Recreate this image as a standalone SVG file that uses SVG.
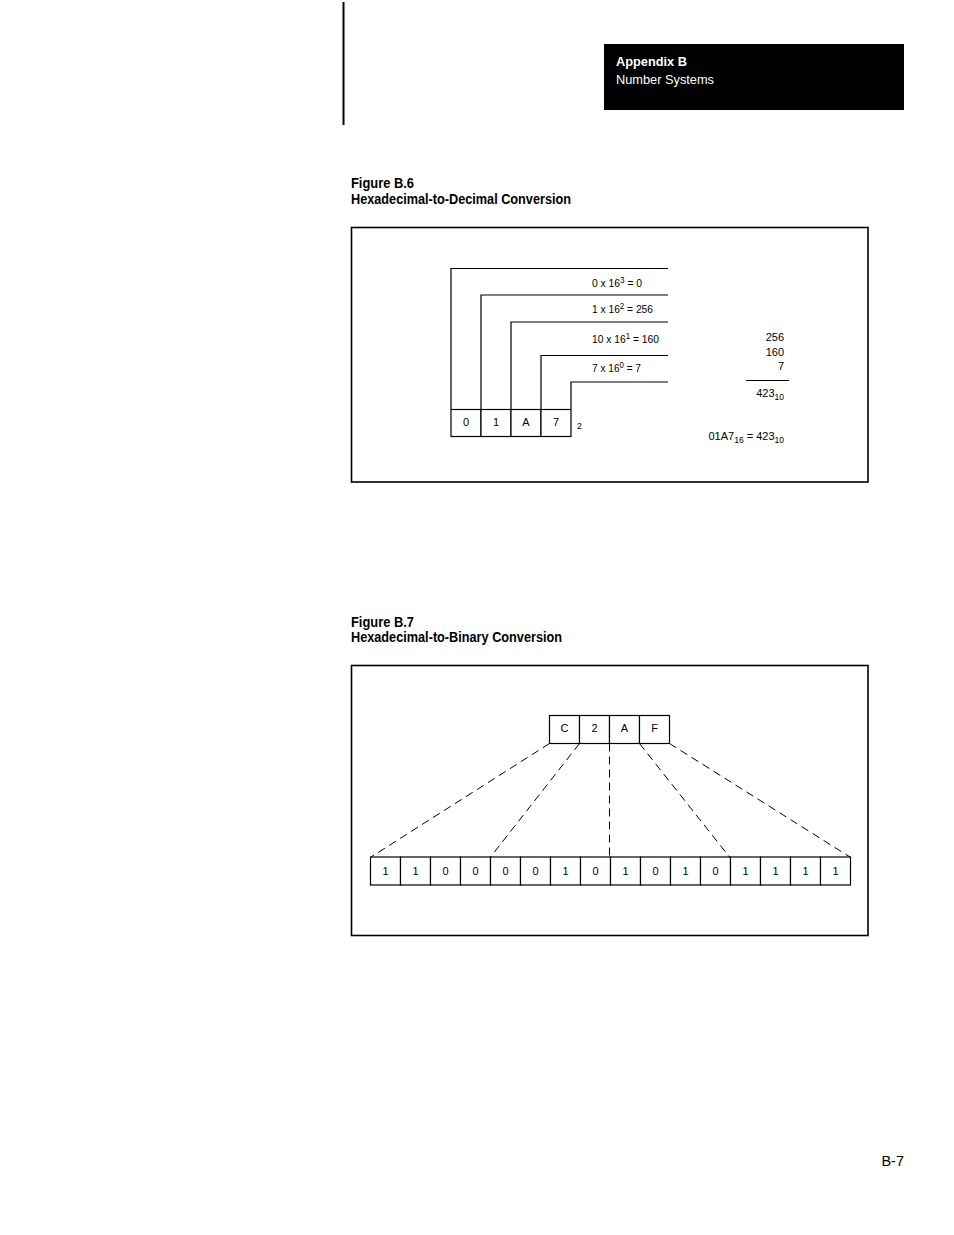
<svg xmlns="http://www.w3.org/2000/svg" width="954" height="1235" viewBox="0 0 954 1235">
<style>
text{font-family:"Liberation Sans",Arial,sans-serif;fill:#000}
.t{font-size:11px}
.c{text-anchor:middle}
.r{text-anchor:end}
.b{font-weight:bold;font-size:14.5px}
.sup{font-size:8.5px}
.ln{stroke:#000;stroke-width:1.2;fill:none}
.fr{stroke:#000;stroke-width:1.6;fill:none}
.bx{stroke:#000;stroke-width:1.2;fill:#fff}
.dash{stroke:#000;stroke-width:1;fill:none;stroke-dasharray:8 5}
</style>
<rect width="954" height="1235" fill="#fff"/>
<g id="header">
<line x1="343.5" y1="2" x2="343.5" y2="125" stroke="#000" stroke-width="2"/>
<rect x="604" y="44" width="300" height="66" fill="#000"/>
<text x="616" y="66" class="b" style="fill:#fff;font-size:13.5px" textLength="71" lengthAdjust="spacingAndGlyphs">Appendix B</text>
<text x="616" y="84" style="fill:#fff;font-size:13.5px" textLength="98" lengthAdjust="spacingAndGlyphs">Number Systems</text>
</g>
<g id="fig6-title">
<text x="351" y="188" class="b" textLength="63" lengthAdjust="spacingAndGlyphs">Figure B.6</text>
<text x="351" y="204" class="b" textLength="220" lengthAdjust="spacingAndGlyphs">Hexadecimal-to-Decimal Conversion</text>
</g>
<rect id="fig6-frame" x="351.5" y="227.5" width="516.5" height="254.5" class="fr"/>
<g id="fig6-connectors">
<polyline class="ln" points="451,409 451,268.5 668,268.5"/>
<polyline class="ln" points="481,409 481,295 668,295"/>
<polyline class="ln" points="511,409 511,322 668,322"/>
<polyline class="ln" points="541,409 541,355.5 668,355.5"/>
<polyline class="ln" points="571,409 571,382 668,382"/>
<line class="ln" x1="746" y1="380.5" x2="789" y2="380.5"/>
</g>
<g id="fig6-digits">
<rect x="451" y="409.5" width="30" height="27" class="bx"/>
<rect x="481" y="409.5" width="30" height="27" class="bx"/>
<rect x="511" y="409.5" width="30" height="27" class="bx"/>
<rect x="541" y="409.5" width="30" height="27" class="bx"/>
<text x="466" y="426" class="t c">0</text>
<text x="496" y="426" class="t c">1</text>
<text x="526" y="426" class="t c">A</text>
<text x="556" y="426" class="t c">7</text>
<text x="577" y="429" style="font-size:8.5px">2</text>
</g>
<g id="fig6-terms">
<text x="592" y="287" class="t" textLength="50" lengthAdjust="spacingAndGlyphs">0 x 16<tspan class="sup" dy="-4">3</tspan><tspan dy="4"> = 0</tspan></text>
<text x="592" y="313" class="t" textLength="61" lengthAdjust="spacingAndGlyphs">1 x 16<tspan class="sup" dy="-4">2</tspan><tspan dy="4"> = 256</tspan></text>
<text x="592" y="343" class="t" textLength="67" lengthAdjust="spacingAndGlyphs">10 x 16<tspan class="sup" dy="-4">1</tspan><tspan dy="4"> = 160</tspan></text>
<text x="592" y="372" class="t" textLength="49" lengthAdjust="spacingAndGlyphs">7 x 16<tspan class="sup" dy="-4">0</tspan><tspan dy="4"> = 7</tspan></text>
</g>
<g id="fig6-sum">
<text x="784" y="341" class="t r">256</text>
<text x="784" y="356" class="t r">160</text>
<text x="784" y="370" class="t r">7</text>
<text x="784" y="397" class="t r">423<tspan class="sup" dy="3">10</tspan></text>
<text x="784" y="440" class="t r">01A7<tspan class="sup" dy="3">16</tspan><tspan dy="-3">  = 423</tspan><tspan class="sup" dy="3">10</tspan></text>
</g>
<g id="fig7-title">
<text x="351" y="627" class="b" textLength="63" lengthAdjust="spacingAndGlyphs">Figure B.7</text>
<text x="351" y="642" class="b" textLength="211" lengthAdjust="spacingAndGlyphs">Hexadecimal-to-Binary Conversion</text>
</g>
<rect id="fig7-frame" x="351.5" y="665.5" width="516.5" height="270" class="fr"/>
<g id="fig7-connectors">
<line class="dash" x1="549.5" y1="743.5" x2="371" y2="857"/>
<line class="dash" x1="579.5" y1="743.5" x2="490.5" y2="857"/>
<line class="dash" x1="609.5" y1="743.5" x2="609.5" y2="857"/>
<line class="dash" x1="639.5" y1="743.5" x2="729.5" y2="857"/>
<line class="dash" x1="669.5" y1="743.5" x2="850" y2="857"/>
</g>
<g id="fig7-hex">
<rect x="549.5" y="715.5" width="30" height="28" class="bx"/>
<rect x="579.5" y="715.5" width="30" height="28" class="bx"/>
<rect x="609.5" y="715.5" width="30" height="28" class="bx"/>
<rect x="639.5" y="715.5" width="30" height="28" class="bx"/>
<text x="564.5" y="732" class="t c">C</text>
<text x="594.5" y="732" class="t c">2</text>
<text x="624.5" y="732" class="t c">A</text>
<text x="654.5" y="732" class="t c">F</text>
</g>
<g id="fig7-binary">
<rect x="370.5" y="857" width="30" height="28" class="bx"/>
<rect x="400.5" y="857" width="30" height="28" class="bx"/>
<rect x="430.5" y="857" width="30" height="28" class="bx"/>
<rect x="460.5" y="857" width="30" height="28" class="bx"/>
<rect x="490.5" y="857" width="30" height="28" class="bx"/>
<rect x="520.5" y="857" width="30" height="28" class="bx"/>
<rect x="550.5" y="857" width="30" height="28" class="bx"/>
<rect x="580.5" y="857" width="30" height="28" class="bx"/>
<rect x="610.5" y="857" width="30" height="28" class="bx"/>
<rect x="640.5" y="857" width="30" height="28" class="bx"/>
<rect x="670.5" y="857" width="30" height="28" class="bx"/>
<rect x="700.5" y="857" width="30" height="28" class="bx"/>
<rect x="730.5" y="857" width="30" height="28" class="bx"/>
<rect x="760.5" y="857" width="30" height="28" class="bx"/>
<rect x="790.5" y="857" width="30" height="28" class="bx"/>
<rect x="820.5" y="857" width="30" height="28" class="bx"/>
<text x="385.5" y="875" class="t c">1</text>
<text x="415.5" y="875" class="t c">1</text>
<text x="445.5" y="875" class="t c">0</text>
<text x="475.5" y="875" class="t c">0</text>
<text x="505.5" y="875" class="t c">0</text>
<text x="535.5" y="875" class="t c">0</text>
<text x="565.5" y="875" class="t c">1</text>
<text x="595.5" y="875" class="t c">0</text>
<text x="625.5" y="875" class="t c">1</text>
<text x="655.5" y="875" class="t c">0</text>
<text x="685.5" y="875" class="t c">1</text>
<text x="715.5" y="875" class="t c">0</text>
<text x="745.5" y="875" class="t c">1</text>
<text x="775.5" y="875" class="t c">1</text>
<text x="805.5" y="875" class="t c">1</text>
<text x="835.5" y="875" class="t c">1</text>
</g>
<text id="page-number" x="904" y="1166" class="r" style="font-size:14.5px">B-7</text>
</svg>
